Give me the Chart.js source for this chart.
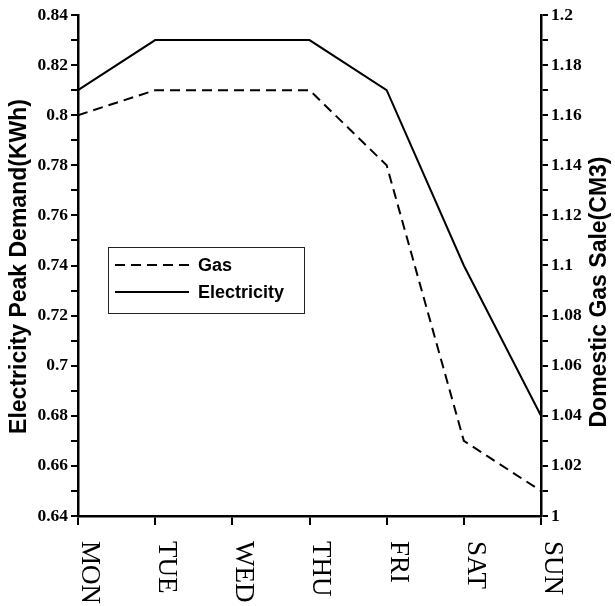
<!DOCTYPE html>
<html>
<head>
<meta charset="utf-8">
<title>Electricity peak demand and domestic gas sale</title>
<script src="https://cdn.jsdelivr.net/npm/chart.js@4.4.1/dist/chart.umd.min.js"></script>
<style>
  html, body { margin: 0; padding: 0; background: #fff; }
  canvas { display: block; }
</style>
</head>
<body>
<canvas id="demandChart" width="615" height="606"></canvas>
<script>
// weekdays on the x axis
const days = ['MON', 'TUE', 'WED', 'THU', 'FRI', 'SAT', 'SUN'];
// electricity peak demand (KWh), left axis
const electricityPeak = [0.81, 0.83, 0.83, 0.83, 0.81, 0.74, 0.68];
// domestic gas sale (CM3), right axis
const gasSale = [1.16, 1.17, 1.17, 1.17, 1.14, 1.03, 1.01];

const leftRange = [0.64, 0.84];
const rightRange = [1.0, 1.2];
const leftTitle = 'Electricity Peak Demand(KWh)';
const rightTitle = 'Domestic Gas Sale(CM3)';

const serif = "'Liberation Serif', 'Times New Roman', serif";
const sans = "'Liberation Sans', Arial, sans-serif";

// only every second step (0.02) gets a number, the odd ones are bare tick marks
function everyOther(value) {
    const hundredths = Math.round(value * 100);
    if (hundredths % 2 !== 0) return '';
    return String(Number(value.toFixed(2)));
}

function yAxis(position, range, width) {
    return {
        type: 'linear',
        position: position,
        min: range[0],
        max: range[1],
        ticks: {
            stepSize: 0.01,
            autoSkip: false,
            callback: everyOther,
            color: '#000',
            padding: 3,
            font: { family: serif, size: 17.5, weight: 'bold' }
        },
        grid: {
            drawOnChartArea: false,
            drawTicks: true,
            tickLength: 7,
            color: '#000',
            lineWidth: 2
        },
        border: { display: true, color: '#000', width: 2.5 },
        afterFit: (scale) => { scale.width = width; }
    };
}

// axis titles, rotated day names and the boxed legend are painted by hand
const decorations = {
    id: 'decorations',
    afterDraw(chart) {
        const ctx = chart.ctx;
        const area = chart.chartArea;
        const xScale = chart.scales.x;

        ctx.save();
        ctx.fillStyle = '#000';

        // day names, turned clockwise under each tick
        ctx.font = `27px ${serif}`;
        ctx.textAlign = 'left';
        ctx.textBaseline = 'middle';
        days.forEach((day, i) => {
            const x = xScale.getPixelForTick(i);
            ctx.save();
            ctx.translate(x + 11, area.bottom + 25);
            ctx.rotate(Math.PI / 2);
            ctx.fillText(day, 0, 0);
            ctx.restore();
        });

        // both axis titles read bottom to top
        ctx.font = `bold 23px ${sans}`;
        ctx.textAlign = 'center';
        ctx.textBaseline = 'middle';
        ctx.save();
        ctx.translate(20, (area.top + area.bottom) / 2 + 1);
        ctx.rotate(-Math.PI / 2);
        ctx.fillText(leftTitle, 0, 0);
        ctx.restore();

        ctx.save();
        ctx.translate(600, 292);
        ctx.rotate(-Math.PI / 2);
        ctx.fillText(rightTitle, 0, 0);
        ctx.restore();

        // legend box
        const box = { x: 108.5, y: 247.5, w: 196, h: 66 };
        ctx.strokeStyle = '#222';
        ctx.lineWidth = 1;
        ctx.strokeRect(box.x, box.y, box.w, box.h);

        ctx.font = `bold 18px ${sans}`;
        ctx.textAlign = 'left';
        ctx.textBaseline = 'middle';
        chart.data.datasets.forEach((ds, i) => {
            const y = 265 + i * 27;
            ctx.save();
            ctx.strokeStyle = ds.borderColor;
            ctx.lineWidth = ds.borderWidth;
            ctx.setLineDash(ds.borderDash || []);
            ctx.beginPath();
            ctx.moveTo(115, y);
            ctx.lineTo(189, y);
            ctx.stroke();
            ctx.restore();
            ctx.fillText(ds.label, 198, y + 1);
        });

        ctx.restore();
    }
};

const ctx = document.getElementById('demandChart').getContext('2d');
new Chart(ctx, {
    type: 'line',
    data: {
        labels: days,
        datasets: [
            {
                label: 'Gas',
                data: gasSale,
                yAxisID: 'y1',
                borderColor: '#000',
                borderWidth: 2,
                borderDash: [10, 6],
                pointRadius: 0,
                tension: 0,
                fill: false
            },
            {
                label: 'Electricity',
                data: electricityPeak,
                yAxisID: 'y',
                borderColor: '#000',
                borderWidth: 2,
                pointRadius: 0,
                tension: 0,
                fill: false
            }
        ]
    },
    options: {
        responsive: false,
        animation: false,
        layout: { padding: { top: 15, right: 0, bottom: 0, left: 0 } },
        plugins: {
            legend: { display: false },
            tooltip: { enabled: false }
        },
        scales: {
            x: {
                type: 'category',
                offset: false,
                ticks: { display: false },
                grid: {
                    drawOnChartArea: false,
                    drawTicks: true,
                    tickLength: 9,
                    color: '#000',
                    lineWidth: 2
                },
                border: { display: true, color: '#000', width: 2.5 },
                afterFit: (scale) => { scale.height = 90; }
            },
            y: yAxis('left', leftRange, 78),
            y1: yAxis('right', rightRange, 74)
        }
    },
    plugins: [decorations]
});
</script>
</body>
</html>
